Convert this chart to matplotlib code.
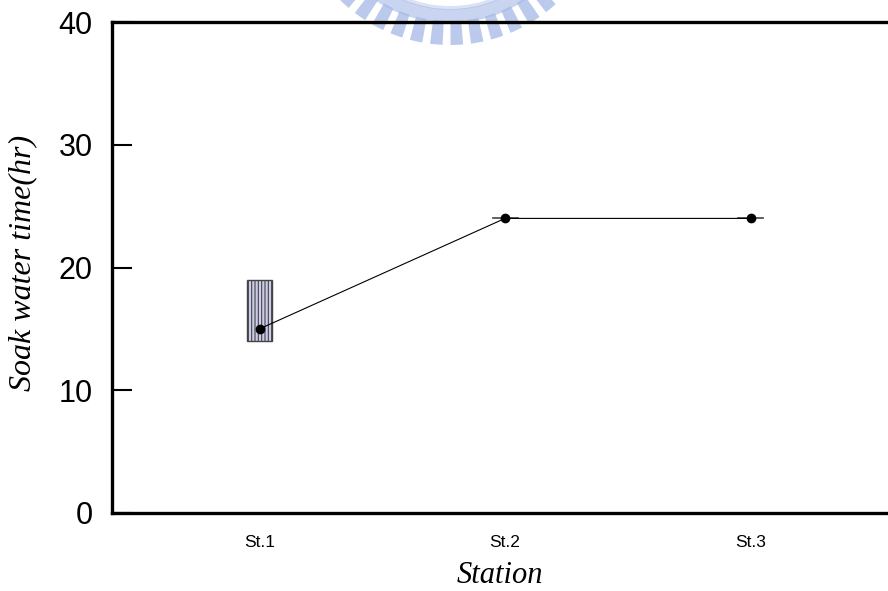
import numpy as np
import matplotlib
matplotlib.use("Agg")
import matplotlib.pyplot as plt
from matplotlib.patches import Rectangle, Wedge
import matplotlib as mpl

stations = ["St.1", "St.2", "St.3"]
box_low = [14, 24, 24]
box_high = [19, 24, 24]
means = [15, 24, 24]
yticks = [0, 10, 20, 30, 40]

mpl.rcParams['hatch.color'] = '#9a9acc'
mpl.rcParams['hatch.linewidth'] = 0.8

fig = plt.figure(figsize=(8.88, 5.91), dpi=100)

# watermark overlay (pixel coordinates)
bg = fig.add_axes([0, 0, 1, 1], zorder=0)
bg.set_xlim(0, 888)
bg.set_ylim(591, 0)
bg.axis('off')
cx, cy = 450, -112
wm = '#a4b8e6'
bg.add_patch(Wedge((cx, cy), 135, 0, 360, width=14, facecolor=wm, edgecolor='none', alpha=0.6))
bg.add_patch(Wedge((cx, cy), 122, 0, 360, width=4, facecolor=wm, edgecolor='none', alpha=0.4))
for a in np.arange(20, 161, 7.5):
    bg.add_patch(Wedge((cx, cy), 157, a - 2.3, a + 2.3, width=24, facecolor=wm, edgecolor='none', alpha=0.75))

ax = fig.add_axes([112/888, 78/591, 776/888, 491/591], zorder=1)
ax.patch.set_alpha(0)

x = np.arange(1, len(stations) + 1)
w = 0.102
for xi, lo, hi in zip(x, box_low, box_high):
    if hi > lo:
        ax.add_patch(Rectangle((xi - w/2, lo), w, hi - lo, facecolor='#ccccea',
                               edgecolor='#444444', linewidth=1.0, hatch='|||||', zorder=2))
    else:
        ax.plot([xi - w/2, xi + w/2], [lo, hi], color='#444444', linewidth=1.2, zorder=2)

ax.plot(x, means, color='black', linewidth=0.8, zorder=3)
ax.plot(x, means, 'o', color='black', markersize=6, zorder=4)

ax.set_xlim(0.399, 3.56)
ax.set_ylim(0, 40)
ax.set_xticks(x)
ax.set_xticklabels(stations, fontsize=12.5, family='Liberation Sans')
ax.set_yticks(yticks)
ax.set_yticklabels([str(v) for v in yticks], fontsize=22, family='Liberation Sans')
ax.tick_params(axis='y', direction='in', length=14.5, width=1.5, pad=14)
ax.tick_params(axis='x', length=0, pad=16)

for s in ['left', 'bottom', 'top']:
    ax.spines[s].set_linewidth(2.4)
ax.spines['right'].set_visible(False)

ax.set_ylabel("Soak water time(hr)", fontsize=23, family='Liberation Serif', style='italic')
ax.yaxis.set_label_coords(-0.097, 0.51)
ax.set_xlabel("Station", fontsize=22, family='Liberation Serif', style='italic')
ax.xaxis.set_label_coords(0.5, -0.097)

fig.savefig("out.png", dpi=100)
